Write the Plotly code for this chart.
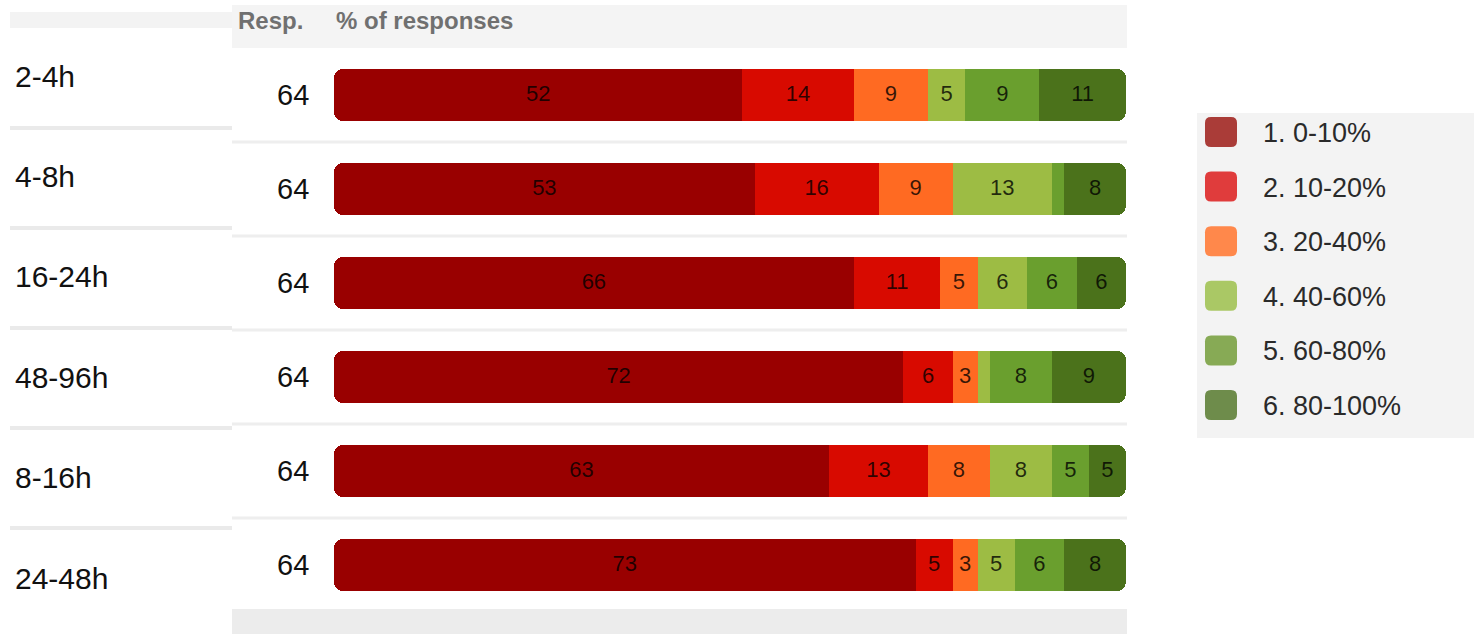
import plotly.graph_objects as go

# ---------------- data ----------------
categories = ["2-4h", "4-8h", "16-24h", "48-96h", "8-16h", "24-48h"]
responses = [64, 64, 64, 64, 64, 64]
band_names = ["1. 0-10%", "2. 10-20%", "3. 20-40%", "4. 40-60%", "5. 60-80%", "6. 80-100%"]
# number of responses in each band, per category (out of 64)
band_1 = [33, 34, 42, 46, 40, 47]
band_2 = [9, 10, 7, 4, 8, 3]
band_3 = [6, 6, 3, 2, 5, 2]
band_4 = [3, 8, 4, 1, 5, 3]
band_5 = [6, 1, 4, 5, 3, 4]
band_6 = [7, 5, 4, 6, 3, 5]
bands = [band_1, band_2, band_3, band_4, band_5, band_6]

# ---------------- style ----------------
bar_colors = ["#990000", "#d80a00", "#ff6a22", "#9dbc44", "#6a9f2e", "#4b721b"]
legend_colors = ["#aa3c38", "#e03c3c", "#ff884b", "#aac865", "#87aa55", "#6e8c4b"]
FONT = "Arial, Liberation Sans, sans-serif"
W, H = 1474, 634
K = 2.0  # small left cap so both ends of each bar get rounded


def fx(x):
    return x / W


def fy(y):
    return 1 - y / H


fig = go.Figure()

# left rounded cap (part of band 1)
fig.add_trace(go.Bar(
    y=categories, x=[-K] * len(categories), orientation="h",
    marker=dict(color=bar_colors[0], line=dict(width=0)),
    width=0.553, showlegend=False, hoverinfo="skip"))

pcts = []
for i, (name, vals) in enumerate(zip(band_names, bands)):
    pct = [v / r * 100 for v, r in zip(vals, responses)]
    pcts.append(pct)
    xv = [p - K for p in pct] if i == 0 else pct
    fig.add_trace(go.Bar(
        y=categories, x=xv, orientation="h", name=name,
        marker=dict(color=bar_colors[i], line=dict(width=0)),
        width=0.553, showlegend=False,
        hovertemplate="%{y}: " + name + "<extra></extra>"))

# segment value labels (percent, rounded half up)
tx, ty, tt = [], [], []
for j, cat in enumerate(categories):
    start = -K
    for i in range(len(bands)):
        p = pcts[i][j]
        if p >= 2:
            tx.append(start + p / 2)
            ty.append(cat)
            tt.append(str(int(p + 0.5)))
        start += p
fig.add_trace(go.Scatter(
    x=tx, y=ty, text=tt, mode="text", textposition="middle center",
    textfont=dict(family=FONT, size=22, color="rgba(0,0,0,0.78)"),
    showlegend=False, hoverinfo="skip"))

shapes = []
annotations = []

# background bands
shapes.append(dict(type="rect", xref="paper", yref="paper", x0=fx(232), x1=fx(1127),
                   y0=fy(48), y1=fy(5), fillcolor="#f4f4f4", line=dict(width=0), layer="below"))
shapes.append(dict(type="rect", xref="paper", yref="paper", x0=fx(10), x1=fx(232),
                   y0=fy(28), y1=fy(12), fillcolor="#f3f3f3", line=dict(width=0), layer="below"))
shapes.append(dict(type="rect", xref="paper", yref="paper", x0=fx(232), x1=fx(1127),
                   y0=0, y1=fy(609), fillcolor="#ececec", line=dict(width=0), layer="below"))
# row separators (right part, at category boundaries)
for j in range(len(categories) - 1):
    shapes.append(dict(type="line", xref="paper", yref="y", x0=fx(232), x1=fx(1127),
                       y0=j + 0.5, y1=j + 0.5, line=dict(color="#eeeeee", width=3), layer="below"))
# row separators (left label column)
for j in range(len(categories) - 1):
    yy = 128 + 100 * j
    shapes.append(dict(type="line", xref="paper", yref="paper", x0=fx(10), x1=fx(232),
                       y0=fy(yy), y1=fy(yy), line=dict(color="#eaeaea", width=4), layer="below"))

# header
annotations.append(dict(xref="paper", yref="paper", x=fx(236), y=fy(20), xanchor="left", yanchor="middle",
                        text="<b>Resp.</b>", showarrow=False,
                        font=dict(family=FONT, size=24, color="#707070")))
annotations.append(dict(xref="paper", yref="paper", x=fx(334), y=fy(20), xanchor="left", yanchor="middle",
                        text="<b>% of responses</b>", showarrow=False,
                        font=dict(family=FONT, size=24, color="#707070")))

# category labels (left) and response counts
for j, (cat, r) in enumerate(zip(categories, responses)):
    annotations.append(dict(xref="paper", yref="paper", x=fx(13), y=fy(76 + 100.4 * j),
                            xanchor="left", yanchor="middle", text=cat, showarrow=False,
                            font=dict(family=FONT, size=30, color="#111111")))
    annotations.append(dict(xref="paper", yref="y", x=fx(311), y=cat,
                            xanchor="right", yanchor="middle", text=str(r), showarrow=False,
                            font=dict(family=FONT, size=29, color="#111111")))

# legend (manual)
shapes.append(dict(type="rect", xref="paper", yref="paper", x0=fx(1197), x1=1,
                   y0=fy(438), y1=fy(113), fillcolor="#f3f3f3", line=dict(width=0), layer="below"))


def rrect(x0, y0, x1, y1, r):
    # rounded rectangle path in paper coords, from pixel values
    def P(x, y):
        return f"{fx(x):.6f},{fy(y):.6f}"
    return (f"M {P(x0 + r, y0)} L {P(x1 - r, y0)} Q {P(x1, y0)} {P(x1, y0 + r)} "
            f"L {P(x1, y1 - r)} Q {P(x1, y1)} {P(x1 - r, y1)} L {P(x0 + r, y1)} "
            f"Q {P(x0, y1)} {P(x0, y1 - r)} L {P(x0, y0 + r)} Q {P(x0, y0)} {P(x0 + r, y0)} Z")


for i, name in enumerate(band_names):
    cy = 132 + 54.6 * i
    shapes.append(dict(type="path", xref="paper", yref="paper",
                       path=rrect(1205, cy - 15, 1237, cy + 15, 6),
                       fillcolor=legend_colors[i], line=dict(width=0)))
    annotations.append(dict(xref="paper", yref="paper", x=fx(1261), y=fy(cy + 1),
                            xanchor="left", yanchor="middle", text=name, showarrow=False,
                            font=dict(family=FONT, size=27, color="#2a2a2a")))

fig.update_layout(
    width=W, height=H, margin=dict(l=0, r=0, t=0, b=0),
    paper_bgcolor="white", plot_bgcolor="rgba(0,0,0,0)",
    barmode="relative", barcornerradius=9, bargap=0,
    showlegend=False,
    xaxis=dict(domain=[fx(334), fx(1126)], range=[-K, 100 - K], visible=False,
               showgrid=False, zeroline=False, fixedrange=True),
    yaxis=dict(domain=[fy(612), fy(48)], type="category", categoryorder="array",
               categoryarray=categories, range=[len(categories) - 0.5, -0.5],
               visible=False, showgrid=False, zeroline=False, fixedrange=True),
    shapes=shapes, annotations=annotations,
)

fig.write_html("out.html", config={"displayModeBar": False},
               post_script="document.body.style.margin='0';document.body.style.overflow='hidden';")
